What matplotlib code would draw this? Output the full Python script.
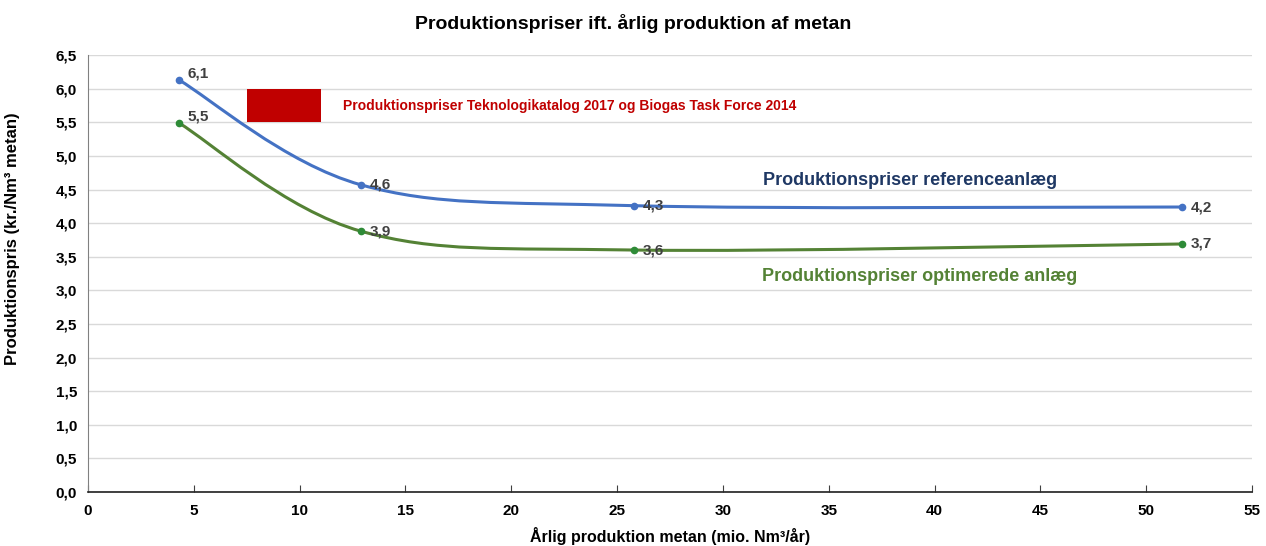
#!/usr/bin/env python3
"""Produktionspriser ift. årlig produktion af metan."""

import matplotlib
matplotlib.use("Agg")
import matplotlib.pyplot as plt
from matplotlib.path import Path
from matplotlib.patches import PathPatch, Rectangle
from matplotlib import font_manager

production = [4.3, 12.9, 25.8, 51.7]
price_reference = [6.13, 4.57, 4.26, 4.24]
price_optimized = [5.49, 3.88, 3.60, 3.69]
labels_reference = ["6,1", "4,6", "4,3", "4,2"]
labels_optimized = ["5,5", "3,9", "3,6", "3,7"]

names = {f.name for f in font_manager.fontManager.ttflist}
narrow = "Liberation Sans Narrow" if "Liberation Sans Narrow" in names else "Liberation Sans"
plt.rcParams["font.family"] = [narrow, "DejaVu Sans"]
plt.rcParams["font.weight"] = "bold"
plt.rcParams["axes.labelweight"] = "bold"
plt.rcParams["figure.titleweight"] = "bold"


def smooth_path(xs, ys):
    # Excel-style smoothed line as cubic Bezier segments
    pts = list(zip(xs, ys))
    n = len(pts)
    verts = [pts[0]]
    codes = [Path.MOVETO]
    for i in range(n - 1):
        p0 = pts[max(i - 1, 0)]
        p1 = pts[i]
        p2 = pts[i + 1]
        p3 = pts[min(i + 2, n - 1)]
        c1 = (p1[0] + (p2[0] - p0[0]) / 6, p1[1] + (p2[1] - p0[1]) / 6)
        c2 = (p2[0] - (p3[0] - p1[0]) / 6, p2[1] - (p3[1] - p1[1]) / 6)
        verts += [c1, c2, p2]
        codes += [Path.CURVE4] * 3
    return Path(verts, codes)


fig = plt.figure(figsize=(12.66, 5.46), dpi=100)
ax = fig.add_axes([0.0695, 0.099, 0.9195, 0.8])

blue = "#4472C4"
green = "#548235"
for xs, ys, col, mcol, labs in [
    (production, price_reference, blue, "#4472C4", labels_reference),
    (production, price_optimized, green, "#2E8B37", labels_optimized),
]:
    ax.add_patch(PathPatch(smooth_path(xs, ys), fill=False, edgecolor=col, lw=2.2, zorder=3))
    ax.plot(xs, ys, "o", color=mcol, ms=4.5, zorder=4)
    for x, y, t in zip(xs, ys, labs):
        ax.annotate(t, (x, y), xytext=(6, 0), textcoords="offset points",
                    fontsize=11, color="#404040", va="bottom" if x < 5 else "center", zorder=5)

ax.add_patch(Rectangle((7.5, 5.5), 3.5, 0.5, facecolor="#C00000", edgecolor="none", zorder=3))
ax.text(12.05, 5.75, "Produktionspriser Teknologikatalog 2017 og Biogas Task Force 2014",
        color="#C00000", fontsize=10, va="center")
ax.text(31.9, 4.64, "Produktionspriser referenceanlæg", color="#1F3864",
        fontsize=13, va="center", ha="left")
ax.text(31.85, 3.21, "Produktionspriser optimerede anlæg", color="#548235",
        fontsize=13, va="center", ha="left")

ax.set_xlim(0, 55)
ax.set_ylim(0, 6.5)
ax.set_xticks(range(0, 56, 5))
yt = [i * 0.5 for i in range(14)]
ax.set_yticks(yt)
ax.set_yticklabels([f"{v:.1f}".replace(".", ",") for v in yt])
ax.tick_params(axis="x", direction="in", length=5, labelsize=11, pad=9, color="#404040")
ax.tick_params(axis="y", length=0, labelsize=11, pad=8)
ax.grid(axis="y", color="#D9D9D9", lw=1)
ax.set_axisbelow(True)
for s in ["top", "right"]:
    ax.spines[s].set_visible(False)
ax.spines["left"].set_color("#808080")
ax.spines["bottom"].set_color("#202020")
ax.spines["bottom"].set_linewidth(1.2)

ax.set_ylabel("Produktionspris (kr./Nm³ metan)", fontsize=12)
ax.yaxis.set_label_coords(-0.058, 0.58)
ax.set_xlabel("Årlig produktion metan (mio. Nm³/år)", fontsize=11.5, labelpad=6)
fig.suptitle("Produktionspriser ift. årlig produktion af metan", fontsize=14, y=0.975, x=0.5)

fig.savefig("out.png", dpi=100)
